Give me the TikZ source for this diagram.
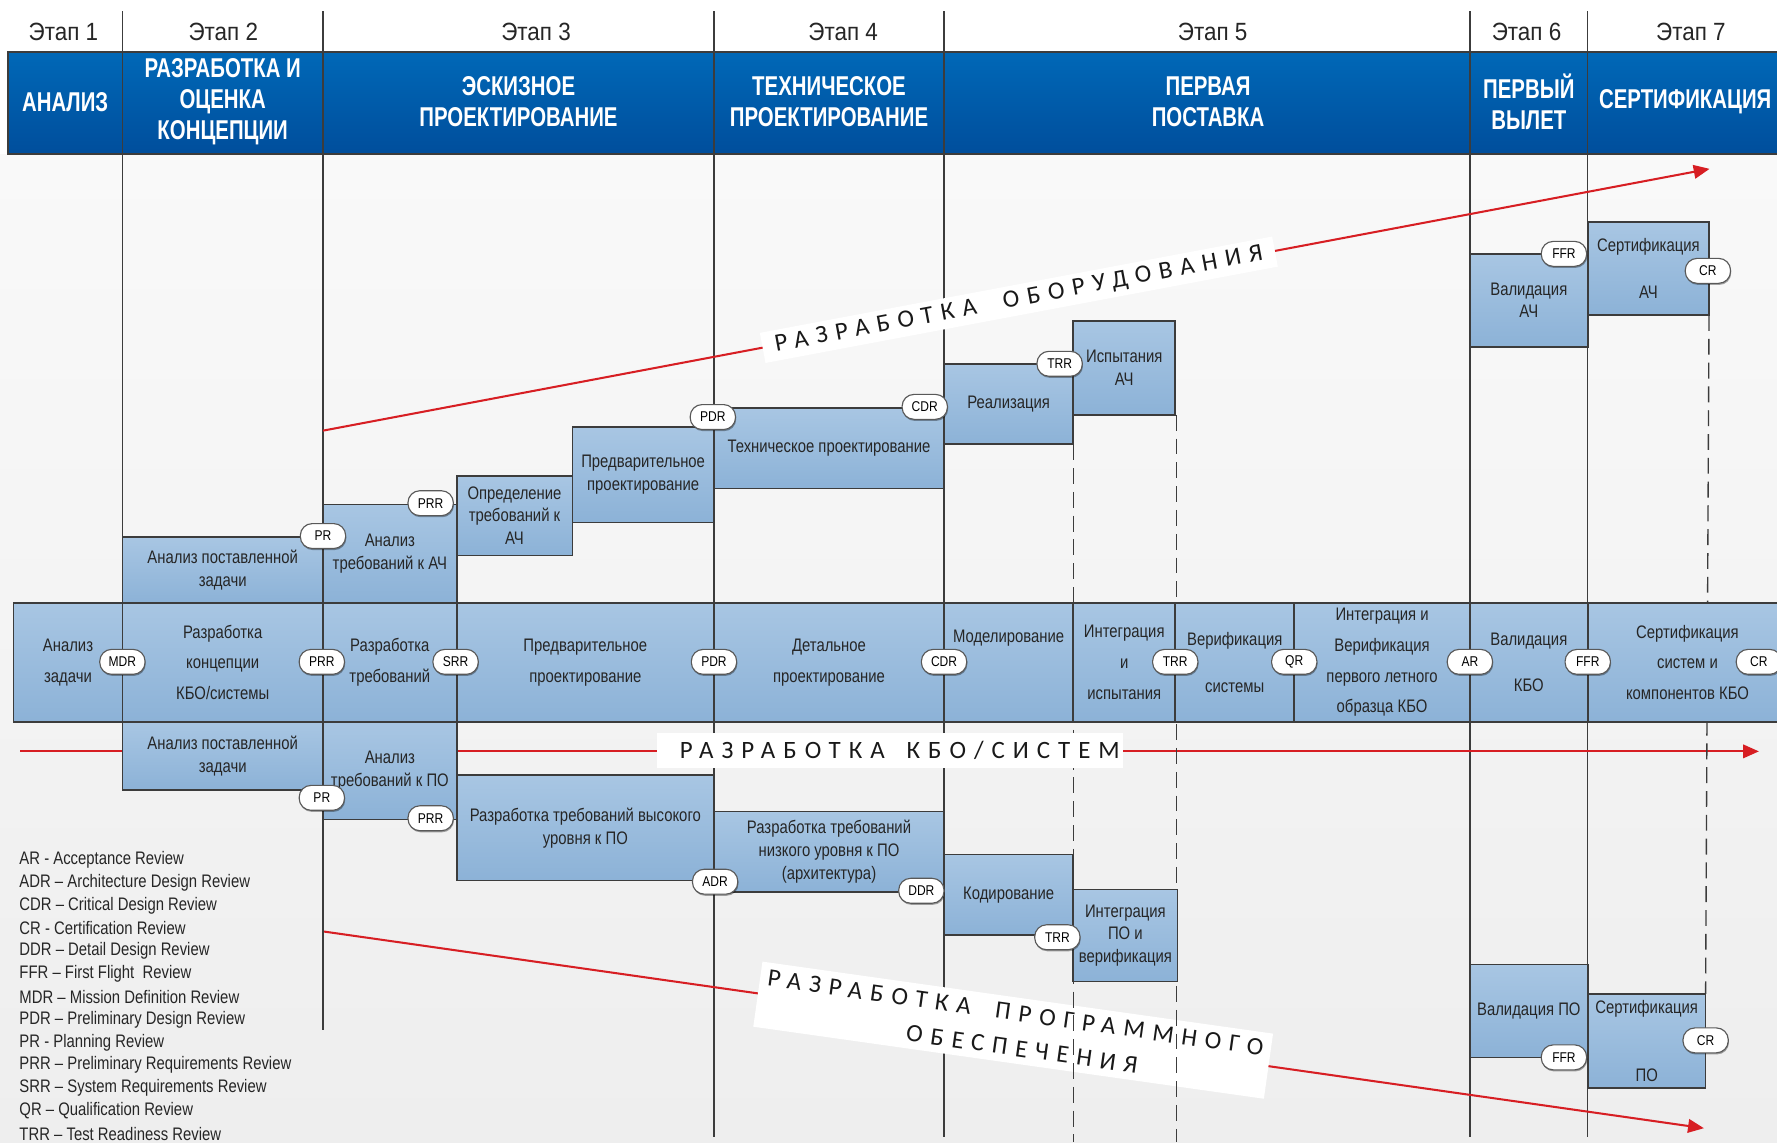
\documentclass[tikz,border=0pt]{standalone}
\usepackage{fontspec}
\setmainfont[FakeStretch=0.82]{Liberation Sans}
\newfontfamily\stagef[FakeStretch=0.9]{Liberation Sans}
\newfontfamily\bandf[FakeStretch=0.75]{Liberation Sans}
\newfontfamily\revf[FakeStretch=0.85]{Liberation Sans}
\newfontfamily\redf[LetterSpace=32]{Carlito}
\usetikzlibrary{arrows.meta,shadows}
\definecolor{bandtop}{RGB}{0,104,183}
\definecolor{bandbot}{RGB}{0,78,156}
\definecolor{boxtop}{RGB}{168,198,227}
\definecolor{boxbot}{RGB}{140,178,215}
\definecolor{edge}{RGB}{60,60,60}
\definecolor{redl}{RGB}{215,30,35}
\definecolor{bgtop}{RGB}{249,249,249}
\definecolor{bgbot}{RGB}{238,238,238}
\tikzset{
 blk/.style={draw=edge, line width=1.4pt, top color=boxtop, bottom color=boxbot, inner sep=0pt, outer sep=0pt, align=center, font=\fontsize{16}{20}\selectfont, text=black!85},
 mrow/.style={blk, font=\fontsize{16}{27}\selectfont},
 rev/.style={draw=black!65, line width=1pt, fill=white, rounded corners=10.5pt, minimum width=40pt, minimum height=22pt, inner sep=0pt, font=\revf\fontsize{12.5}{12.5}\selectfont, drop shadow={shadow xshift=0.6pt, shadow yshift=-1.4pt, fill=black, opacity=0.35}},
 vline/.style={draw=edge, line width=1.2pt},
 dline/.style={vline, dash pattern=on 14pt off 7pt},
 redarrow/.style={draw=redl, line width=1.8pt, -{Triangle[length=14pt,width=12pt]}},
 redlab/.style={fill=white, inner sep=0pt, font=\redf\fontsize{22}{31}\selectfont, align=center, text=black!90},
 stage/.style={font=\stagef\fontsize{22}{22}\selectfont, text=black!85, inner sep=0pt},
 bandt/.style={font=\bandf\bfseries\fontsize{24}{27.5}\selectfont, text=white, align=center, inner sep=0pt},
 leg/.style={anchor=west, font=\fontsize{16}{16}\selectfont, inner sep=0pt, text=black!85},
}
\newcommand\mybox[7]{\node[#7, minimum width={#4-#2}, minimum height={#5-#3}, anchor=north west] (#1) at (#2,#3) {#6};}
\newcommand\myrev[3]{\node[rev] (#1) at (#2) {#3};}
\begin{document}
\begin{tikzpicture}[x=1pt,y=-1pt]
\useasboundingbox (0,0) rectangle (1568,1008);
\fill[white] (0,0) rectangle (1568,1008);
\path[top color=bgtop, bottom color=bgbot] (0,136) rectangle (1568,1008);
% band
\path[draw=edge, line width=1.4pt, top color=bandtop, bottom color=bandbot] (7,46) rectangle (1590,136);
% stage labels
\node[stage] (e1) at (56,28) {Этап 1};
\node[stage] (e2) at (197,28) {Этап 2};
\node[stage] (e3) at (473,28) {Этап 3};
\node[stage] (e4) at (744,28) {Этап 4};
\node[stage] (e5) at (1070,28) {Этап 5};
\node[stage] (e6) at (1347,28) {Этап 6};
\node[stage] (e7) at (1492,28) {Этап 7};
% band titles
\node[bandt] (b1) at (57.5,90) {АНАЛИЗ};
\node[bandt] (b2) at (196.5,90) {РАЗРАБОТКА И\\ОЦЕНКА\\КОНЦЕПЦИИ};
\node[bandt] (b3) at (457.5,90) {ЭСКИЗНОЕ\\ПРОЕКТИРОВАНИЕ};
\node[bandt] (b4) at (731.5,90) {ТЕХНИЧЕСКОЕ\\ПРОЕКТИРОВАНИЕ};
\node[bandt] (b5) at (1066,90) {ПЕРВАЯ\\ПОСТАВКА};
\node[bandt] (b6) at (1349,90) {ПЕРВЫЙ\\ВЫЛЕТ};
\node[bandt] (b7) at (1487,90) {СЕРТИФИКАЦИЯ};
% solid vertical lines
\draw[vline] (108,10) -- (108,697);
\draw[vline] (285,10) -- (285,909);
\draw[vline] (630,10) -- (630,1003);
\draw[vline] (833,10) -- (833,1003);
\draw[vline] (1297,10) -- (1297,1003);
\draw[vline] (1401,10) -- (1401,1003);
% red arrows
\coordinate (hwS) at (285,380); \coordinate (hwE) at (1508.5,149);
\coordinate (kbS) at (18,663); \coordinate (kbE) at (1552,663);
\coordinate (swS) at (286,822); \coordinate (swE) at (1503.5,995.5);
\draw[redarrow] (hwS) -- (hwE);
\draw[redarrow] (kbS) -- (kbE);
\draw[redarrow] (swS) -- (swE);
% lower label
\node[redlab, rotate=-8.03, minimum width=455pt, minimum height=58pt] (swlab) at (894,909) {РАЗРАБОТКА\hspace{10pt} ПРОГРАММНОГО\\\hspace*{20pt}ОБЕСПЕЧЕНИЯ};
% dashed lines
\draw[dline] (947,392) -- (947,1008);
\draw[dline] (1038,366) -- (1038,1008);
\draw[dline] (1508,278) -- (1505,877);
% upper boxes
\mybox{u1}{108}{474}{285}{532}{Анализ поставленной\\задачи}{blk}
\mybox{u2}{285}{445}{403}{532}{Анализ\\требований к АЧ}{blk}
\mybox{u3}{403}{420}{505}{490}{Определение\\требований к\\АЧ}{blk}
\mybox{u4}{505}{377}{630}{461}{Предварительное\\проектирование}{blk}
\mybox{u5}{630}{360}{833}{431}{Техническое проектирование}{blk}
\mybox{u6}{833}{321}{947}{392}{Реализация}{blk}
\mybox{u7}{947}{283}{1037}{366}{Испытания\\АЧ}{blk}
\mybox{u8}{1297}{224}{1401}{306}{Валидация\\АЧ}{blk}
\mybox{u9}{1401}{196}{1508}{278}{Сертификация\\[22pt]АЧ}{blk}
% main row
\mybox{m1}{12}{532}{108}{637}{Анализ\\задачи}{mrow}
\mybox{m2}{108}{532}{285}{637}{Разработка\\концепции\\КБО/системы}{mrow}
\mybox{m3}{285}{532}{403}{637}{Разработка\\требований}{mrow}
\mybox{m4}{403}{532}{630}{637}{Предварительное\\проектирование}{mrow}
\mybox{m5}{630}{532}{833}{637}{Детальное\\проектирование}{mrow}
\mybox{m6}{833}{532}{947}{637}{Моделирование\\[20pt]\mbox{}}{mrow}
\mybox{m7}{947}{532}{1037}{637}{Интеграция\\и\\испытания}{mrow}
\mybox{m8}{1037}{532}{1142}{637}{Верификация\\[14pt]системы}{mrow}
\mybox{m9}{1142}{532}{1297}{637}{Интеграция и\\Верификация\\первого летного\\образца КБО}{mrow}
\mybox{m10}{1297}{532}{1401}{637}{Валидация\\[14pt]КБО}{mrow}
\mybox{m11}{1401}{532}{1577}{637}{Сертификация\\систем и\\компонентов КБО}{mrow}
% lower boxes
\mybox{l1}{108}{637}{285}{697}{Анализ поставленной\\задачи}{blk}
\mybox{l2}{285}{637}{403}{723}{Анализ\\требований к ПО}{blk}
\mybox{l3}{403}{684}{630}{777}{Разработка требований высокого\\уровня к ПО}{blk}
\mybox{l4}{630}{716}{833}{787}{Разработка требований\\низкого уровня к ПО\\(архитектура)}{blk}
\mybox{l5}{833}{754}{947}{825}{Кодирование}{blk}
\mybox{l6}{947}{785}{1039}{866}{Интеграция\\ПО и\\верификация}{blk}
\mybox{l7}{1297}{851}{1401}{933}{Валидация ПО}{blk}
\mybox{l8}{1401}{877}{1505}{960}{Сертификация\\[40pt]ПО}{blk}
% labels
\node[redlab, rotate=10.65, minimum width=460pt, minimum height=27pt] (hwlab) at (899,264.5) {РАЗРАБОТКА\hspace{12pt} ОБОРУДОВАНИЯ};
\node[redlab, text width=405pt, align=right, inner xsep=3pt, minimum height=31pt] (kblab) at (785.5,662.5) {РАЗРАБОТКА\hspace{12pt} КБО/СИСТЕМ};
% reviews upper
\myrev{ru1}{285,473}{PR}
\myrev{ru2}{380,444}{PRR}
\myrev{ru3}{629,368}{PDR}
\myrev{ru4}{816,359}{CDR}
\myrev{ru5}{935,321}{TRR}
\myrev{ru6}{1380,224}{FFR}
\myrev{ru7}{1507,239}{CR}
% reviews main
\myrev{rm1}{108,584}{MDR}
\myrev{rm2}{284,584}{PRR}
\myrev{rm3}{402,584}{SRR}
\myrev{rm4}{630,584}{PDR}
\myrev{rm5}{833,584}{CDR}
\myrev{rm6}{1037,584}{TRR}
\myrev{rm7}{1142,584}{QR}
\myrev{rm8}{1297,584}{AR}
\myrev{rm9}{1401,584}{FFR}
\myrev{rm10}{1552,584}{CR}
% reviews lower
\myrev{rl1}{284,704}{PR}
\myrev{rl2}{380,722}{PRR}
\myrev{rl3}{631,778}{ADR}
\myrev{rl4}{813,786}{DDR}
\myrev{rl5}{933,827}{TRR}
\myrev{rl6}{1380,933}{FFR}
\myrev{rl7}{1505,918}{CR}
% legend
\node[leg] (g1) at (17,759) {AR - Acceptance Review};
\node[leg] (g2) at (17,779.1) {ADR – Architecture Design Review};
\node[leg] (g3) at (17,799.2) {CDR – Critical Design Review};
\node[leg] (g4) at (17,819.3) {CR - Certification Review};
\node[leg] (g5) at (17,839.4) {DDR – Detail Design Review};
\node[leg] (g6) at (17,859.5) {FFR – First Flight\ \ Review};
\node[leg] (g7) at (17,879.6) {MDR – Mission Definition Review};
\node[leg] (g8) at (17,899.7) {PDR – Preliminary Design Review};
\node[leg] (g9) at (17,919.8) {PR - Planning Review};
\node[leg] (g10) at (17,939.9) {PRR – Preliminary Requirements Review};
\node[leg] (g11) at (17,960) {SRR – System Requirements Review};
\node[leg] (g12) at (17,980.1) {QR – Qualification Review};
\node[leg] (g13) at (17,1000.2) {TRR – Test Readiness Review};
\end{tikzpicture}
\end{document}
